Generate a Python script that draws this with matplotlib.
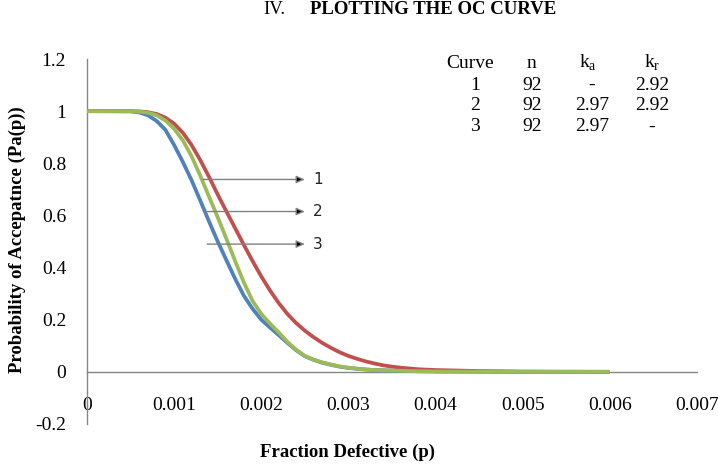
import matplotlib
matplotlib.use("Agg")
import matplotlib.pyplot as plt

# ---- data ----
p = [0.0, 0.0005, 0.0006, 0.0007, 0.0008, 0.0009, 0.0010, 0.0011, 0.0012, 0.0013,
     0.0014, 0.0015, 0.0016, 0.0017, 0.0018, 0.0019, 0.0020, 0.0021, 0.0022, 0.0023,
     0.0024, 0.0025, 0.0026, 0.0027, 0.0028, 0.0029, 0.0030, 0.0031, 0.0032, 0.0033,
     0.0034, 0.0035, 0.0036, 0.0037, 0.0038, 0.0040, 0.0045, 0.0050, 0.0055, 0.0060]

curve_blue = [1.0, 0.999, 0.995, 0.984, 0.962, 0.928, 0.870, 0.805, 0.735, 0.657,
              0.577, 0.500, 0.428, 0.357, 0.292, 0.242, 0.200, 0.170, 0.141, 0.111,
              0.083, 0.060, 0.046, 0.035, 0.027, 0.020, 0.015, 0.012, 0.009, 0.007,
              0.006, 0.005, 0.004, 0.003, 0.0025, 0.0015, 0.0006, 0.0002, 0.0001, 0.0]

curve_red = [1.0, 1.0, 0.999, 0.996, 0.989, 0.975, 0.952, 0.917, 0.870, 0.812,
             0.748, 0.680, 0.615, 0.551, 0.487, 0.425, 0.366, 0.312, 0.264, 0.222,
             0.187, 0.158, 0.133, 0.111, 0.092, 0.075, 0.061, 0.050, 0.040, 0.032,
             0.025, 0.020, 0.016, 0.013, 0.010, 0.007, 0.003, 0.001, 0.0005, 0.0002]

curve_green = [1.0, 1.0, 0.998, 0.994, 0.984, 0.964, 0.932, 0.888, 0.827, 0.752,
               0.672, 0.593, 0.510, 0.425, 0.343, 0.272, 0.222, 0.185, 0.151, 0.115,
               0.085, 0.061, 0.047, 0.036, 0.028, 0.021, 0.016, 0.012, 0.009, 0.007,
               0.006, 0.005, 0.004, 0.003, 0.0025, 0.0015, 0.0006, 0.0002, 0.0001, 0.0]

x_ticks = [0, 0.001, 0.002, 0.003, 0.004, 0.005, 0.006, 0.007]
x_tick_labels = ["0", "0.001", "0.002", "0.003", "0.004", "0.005", "0.006", "0.007"]
y_ticks = [-0.2, 0, 0.2, 0.4, 0.6, 0.8, 1.0, 1.2]
y_tick_labels = ["-0.2", "0", "0.2", "0.4", "0.6", "0.8", "1", "1.2"]

# arrows: label, y level, x start, x end
arrow_labels = ["1", "2", "3"]
arrow_y = [0.738, 0.615, 0.49]
arrow_x0 = [0.00133, 0.00135, 0.00138]
arrow_x1 = 0.0025

table_header = ["Curve", "n", "k$_\\mathregular{a}$", "k$_\\mathregular{r}$"]
table_rows = [["1", "92", "-", "2.92"],
              ["2", "92", "2.97", "2.92"],
              ["3", "92", "2.97", "-"]]

SERIF = "Liberation Serif"
plt.rcParams["font.family"] = SERIF
plt.rcParams["mathtext.fontset"] = "custom"
plt.rcParams["mathtext.rm"] = SERIF

fig = plt.figure(figsize=(7.18, 4.68), dpi=100)
ax = fig.add_axes([87 / 718, 1 - 424 / 468, (697 - 87) / 718, (424 - 59) / 468])

blue, red, green = "#4F81BD", "#C0504D", "#9BBB59"
kw = dict(lw=2.7, solid_joinstyle="round", solid_capstyle="butt")
ax.plot(p, curve_blue, color=blue, zorder=3, **kw)
ax.plot(p, curve_red, color=red, zorder=3, **kw)
ax.plot(p, curve_green, color=green, zorder=4, **kw)

ax.set_xlim(0, 0.007)
ax.set_ylim(-0.2, 1.2)

for s in ["top", "right"]:
    ax.spines[s].set_visible(False)
ax.spines["bottom"].set_position(("data", 0))
ax.spines["bottom"].set_color("#868686")
ax.spines["left"].set_color("#868686")
ax.spines["bottom"].set_linewidth(1.0)
ax.spines["left"].set_linewidth(1.0)

ax.set_xticks(x_ticks)
ax.set_xticklabels(x_tick_labels)
ax.set_yticks(y_ticks)
ax.set_yticklabels(y_tick_labels)
ax.tick_params(axis="both", length=0, labelsize=14, labelcolor="black")
ax.tick_params(axis="x", pad=18)
ax.tick_params(axis="y", pad=15)

# arrows
for lab, yy, x0 in zip(arrow_labels, arrow_y, arrow_x0):
    ax.annotate("", xy=(arrow_x1, yy), xytext=(x0, yy),
                arrowprops=dict(arrowstyle="-|>,head_length=0.5,head_width=0.22",
                                color="#808080", fc="black", ec="#808080", lw=1.0,
                                shrinkA=0, shrinkB=0), zorder=5)
    ax.text(arrow_x1 + 0.00015, yy, lab, fontsize=11, ha="center", va="center",
            family="DejaVu Sans", color="#222222")

# table
col_x = [470, 531, 588, 652]
row_y = [63, 85, 106, 127]
for cx, h in zip(col_x, table_header):
    fig.text(cx / 718, 1 - row_y[0] / 468, h, fontsize=14, ha="center", va="center")
for ri, row in enumerate(table_rows):
    xs = [475, 532, 592, 652]
    for cx, v in zip(xs, row):
        fig.text(cx / 718, 1 - row_y[ri + 1] / 468, v, fontsize=14, ha="center", va="center")

# title and axis labels
fig.text(263 / 718, 1 - 10 / 468, "IV.", fontsize=13.5, ha="left", va="center")
fig.text(310 / 718, 1 - 10 / 468, "PLOTTING THE OC CURVE", fontsize=13.5,
         fontweight="bold", ha="left", va="center")
fig.text(347 / 718, 1 - 452 / 468, "Fraction Defective (p)", fontsize=13.5,
         fontweight="bold", ha="center", va="center")
fig.text(17 / 718, 1 - 240 / 468, "Probability of Accepatnce (Pa(p))", fontsize=13.5,
         fontweight="bold", ha="center", va="center", rotation=90)

fig.savefig("out.png", dpi=100)
